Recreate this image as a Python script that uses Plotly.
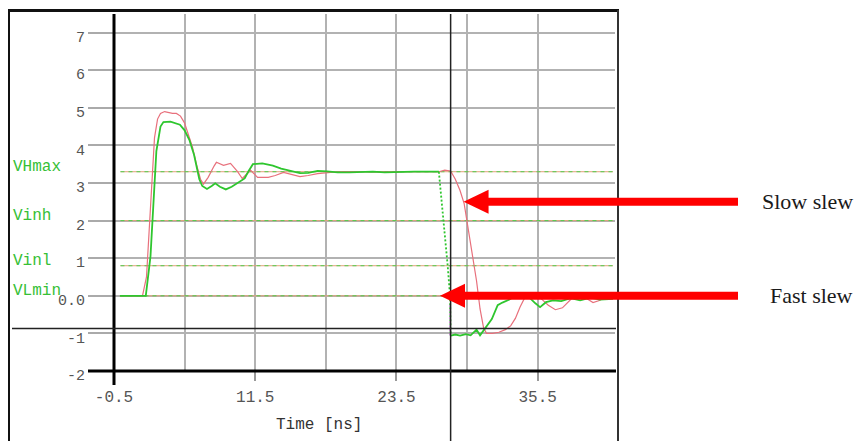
import plotly.graph_objects as go

# ---------------- data ----------------
# slow-slew driver (red)
t_slow = [0.0, 1.92, 2.26, 2.52, 2.69, 2.94, 3.2, 3.45, 3.8, 4.13, 4.47, 4.8, 5.15, 5.49,
          5.83, 6.17, 6.5, 6.85, 7.1, 7.5, 8.0, 8.2, 8.8, 9.4, 10.0, 10.4, 11.1, 11.7,
          12.6, 13.2, 13.9, 14.6, 15.3, 16.0, 16.8, 17.9, 19.0, 20.4, 22.0, 23.8, 25.5,
          27.1, 27.6, 28.1, 28.5, 28.9, 29.25, 29.6, 29.96, 30.3, 30.6, 30.9, 31.15,
          31.65, 32.2, 32.75, 33.2, 33.6, 34.0, 34.4, 34.7, 35.06, 35.7, 36.4, 37.0,
          37.6, 38.3, 38.9, 39.55, 40.2, 40.8, 41.3, 41.9]
v_slow = [0.0, 0.0, 0.5, 1.8, 2.9, 4.2, 4.7, 4.85, 4.9, 4.87, 4.85, 4.85, 4.78, 4.6,
          4.3, 3.95, 3.5, 3.1, 2.97, 3.15, 3.45, 3.55, 3.47, 3.52, 3.3, 3.12, 3.34, 3.15,
          3.15, 3.2, 3.28, 3.22, 3.17, 3.2, 3.25, 3.28, 3.3, 3.3, 3.29, 3.3, 3.3,
          3.3, 3.34, 3.32, 3.1, 2.8, 2.45, 1.75, 1.05, 0.4, -0.35, -0.85, -1.0,
          -1.0, -0.97, -0.9, -0.8, -0.6, -0.3, -0.05, 0.06, 0.02, -0.05, -0.25, -0.37,
          -0.32, -0.1, 0.02, -0.05, -0.18, -0.12, 0.0, -0.08]

# fast-slew driver (green): settling part, falling edge, tail after the edge
t_fast = [0.0, 2.2, 2.6, 2.85, 3.1, 3.45, 3.7, 4.3, 4.7, 5.1, 5.5, 5.9, 6.3, 6.6, 6.75,
          7.0, 7.4, 7.8, 8.1, 8.5, 9.0, 9.5, 10.0, 10.6, 10.9, 11.3, 12.1, 13.0, 13.7,
          14.5, 15.3, 16.0, 16.8, 17.6, 18.5, 19.5, 20.5, 21.5, 22.5, 23.8, 25.0, 26.2,
          27.1, None,
          28.1, 28.5, 28.9, 29.4, 29.8, 30.3, 30.6, 31.1, 31.6, 32.1, 32.5, 33.1, 33.6,
          34.2, 34.8, 35.3, 35.7, 36.2, 36.8, 37.5, 38.3, 39.1, 40.0, 40.8, 41.9]
v_fast = [0.0, 0.0, 1.05, 2.5, 3.85, 4.5, 4.62, 4.63, 4.6, 4.55, 4.4, 4.15, 3.75, 3.35, 3.1,
          2.92, 2.84, 2.92, 2.99, 2.9, 2.83, 2.9, 3.0, 3.12, 3.3, 3.5, 3.52, 3.46, 3.38,
          3.32, 3.26, 3.27, 3.32, 3.31, 3.28, 3.28, 3.29, 3.3, 3.28, 3.3, 3.3, 3.3,
          3.3, None,
          -1.06, -1.03, -1.06, -1.02, -1.05, -0.9, -1.05, -0.85, -0.62, -0.25, -0.18, -0.1, 0.0,
          0.07, -0.05, -0.2, -0.3, -0.17, -0.12, -0.14, -0.06, -0.12, -0.05, -0.1, -0.08]
t_fast_edge = [27.1, 27.5, 27.85, 28.05, 28.1]
v_fast_edge = [3.3, 2.0, 0.8, 0.0, -1.06]

# marker segment on the cursor
t_cursor_mark = [28.05, 28.05]
v_cursor_mark = [-0.25, -1.05]

# receiver thresholds
threshold_names = ["VHmax", "Vinh", "Vinl", "VLmin"]
threshold_values = [3.3, 2.0, 0.8, 0.0]
threshold_span = [0.05, 41.9]

# axes
y_ticks = [-2, -1, 0, 1, 2, 3, 4, 5, 6, 7]
y_tick_labels = ["-2", "-1", "0.0", "1", "2", "3", "4", "5", "6", "7"]
x_ticks = [-0.5, 11.5, 23.5, 35.5]
x_tick_labels = ["-0.5", "11.5", "23.5", "35.5"]
x_minor_grid = [5.5, 17.5, 29.5]
x_title = "Time [ns]"

cursor_t = 28.1
ref_level = -0.87

arrow_labels = ["Slow slew", "Fast slew"]
arrow_tip_t = [29.2, 27.2]
arrow_tip_v = [2.5, 0.0]

# ---------------- layout geometry ----------------
W, H = 857, 441
L, R, T, B = 114, 242, 14, 70
PW, PH = W - L - R, H - T - B
X_RANGE = [-0.5, -0.5 + PW / 11.77]
Y_RANGE = [-2.0, -2.0 + PH / 37.6]


def px_x(px):
    return (px - L) / PW


def px_y(py):
    return (H - B - py) / PH


def dx(t):
    return (t - X_RANGE[0]) / (X_RANGE[1] - X_RANGE[0])


def dy(v):
    return (v - Y_RANGE[0]) / (Y_RANGE[1] - Y_RANGE[0])


MONO = "Liberation Mono, DejaVu Sans Mono, monospace"
GRID = "#b2b2b2"
GREEN = "#2ec62e"
RED = "#e8707c"

fig = go.Figure()

# threshold lines: red underlay with green dashes on top
for val in threshold_values:
    fig.add_trace(go.Scatter(x=threshold_span, y=[val, val], mode="lines",
                             line=dict(color="#e3a07a", width=1), hoverinfo="skip"))
    fig.add_trace(go.Scatter(x=threshold_span, y=[val, val], mode="lines",
                             line=dict(color="#4fcf4f", width=1, dash="4px,4px"),
                             hoverinfo="skip"))

fig.add_trace(go.Scatter(x=t_slow, y=v_slow, mode="lines",
                         line=dict(color=RED, width=1.2), hoverinfo="skip"))
fig.add_trace(go.Scatter(x=t_fast, y=v_fast, mode="lines", connectgaps=False,
                         line=dict(color=GREEN, width=1.8), hoverinfo="skip"))
fig.add_trace(go.Scatter(x=t_fast_edge, y=v_fast_edge, mode="lines",
                         line=dict(color=GREEN, width=1.8, dash="2px,2px"), hoverinfo="skip"))
fig.add_trace(go.Scatter(x=t_cursor_mark, y=v_cursor_mark, mode="lines",
                         line=dict(color="#c050d0", width=1.2, dash="2px,2px"), hoverinfo="skip"))

shapes = []


def line_shape(x0, y0, x1, y1, color, width):
    shapes.append(dict(type="line", xref="paper", yref="paper", x0=x0, y0=y0, x1=x1, y1=y1,
                       line=dict(color=color, width=width), layer="above"))


# outer frame
line_shape(px_x(8), px_y(10.5), px_x(619), px_y(10.5), "#111", 3)
line_shape(px_x(9), px_y(10), px_x(9), px_y(H), "#111", 2)
line_shape(px_x(618), px_y(10), px_x(618), px_y(H), "#333", 2)
# axis lines
line_shape(dx(X_RANGE[0]), px_y(T), dx(X_RANGE[0]), px_y(385), "#000", 3)
line_shape(px_x(88), dy(-2), px_x(616), dy(-2), "#000", 3)
# reference level and time cursor
line_shape(px_x(12), dy(ref_level), px_x(616), dy(ref_level), "#222", 1.5)
line_shape(dx(cursor_t), px_y(T), dx(cursor_t), px_y(H), "#222", 1.5)

# slew arrows (red), head 25px long, 24px tall; shaft 8px thick
annotations = []
for label, tt, vv in zip(arrow_labels, arrow_tip_t, arrow_tip_v):
    tip_x, tip_y = dx(tt), dy(vv)
    base_x = tip_x + 25 / PW
    hh = 12 / PH
    shapes.append(dict(type="path", xref="paper", yref="paper",
                       path=f"M{tip_x},{tip_y} L{base_x},{tip_y + hh} L{base_x},{tip_y - hh} Z",
                       fillcolor="#ff0000", line=dict(width=0), layer="above"))
    shapes.append(dict(type="rect", xref="paper", yref="paper",
                       x0=base_x - 1 / PW, x1=px_x(738), y0=tip_y - 4 / PH, y1=tip_y + 4 / PH,
                       fillcolor="#ff0000", line=dict(width=0), layer="above"))
    annotations.append(dict(text=label, xref="paper", yref="paper", x=px_x(855), y=tip_y,
                            xanchor="right", yanchor="middle", showarrow=False,
                            font=dict(family="Liberation Serif, Times New Roman, serif",
                                      size=22, color="#1a1a1a")))

# threshold names on the left
for name, val in zip(threshold_names, threshold_values):
    annotations.append(dict(text=name, xref="paper", yref="y", x=px_x(11), y=val,
                            xanchor="left", yanchor="middle", yshift=5, showarrow=False,
                            font=dict(family=MONO, size=16, color="#36c036")))

# x axis title
annotations.append(dict(text=x_title, xref="paper", yref="paper", x=px_x(319), y=px_y(425),
                        xanchor="center", yanchor="middle", showarrow=False,
                        font=dict(family=MONO, size=16, color="#333")))

fig.update_layout(
    width=W, height=H,
    margin=dict(l=L, r=R, t=T, b=B, pad=0),
    paper_bgcolor="white", plot_bgcolor="white",
    showlegend=False,
    shapes=shapes,
    annotations=annotations,
    xaxis=dict(range=X_RANGE, tickmode="array", tickvals=x_ticks, ticktext=x_tick_labels,
               ticks="outside", ticklen=9, tickwidth=1.5, tickcolor="#999",
               showgrid=True, gridcolor=GRID, gridwidth=1.5, zeroline=False, showline=False,
               ticklabelstandoff=2,
               tickfont=dict(family=MONO, size=16, color="#555"),
               minor=dict(tickmode="array", tickvals=x_minor_grid, showgrid=True,
                          gridcolor=GRID, gridwidth=1.5, ticks="")),
    yaxis=dict(range=Y_RANGE, tickmode="array", tickvals=y_ticks, ticktext=y_tick_labels,
               ticks="outside", ticklen=25, tickwidth=1.5, tickcolor="#aaa",
               showgrid=True, gridcolor=GRID, gridwidth=1.5, zeroline=False, showline=False,
               ticklabelshift=4,
               tickfont=dict(family=MONO, size=15, color="#555")),
)

fig.write_html("out.html", config={"displayModeBar": False})
